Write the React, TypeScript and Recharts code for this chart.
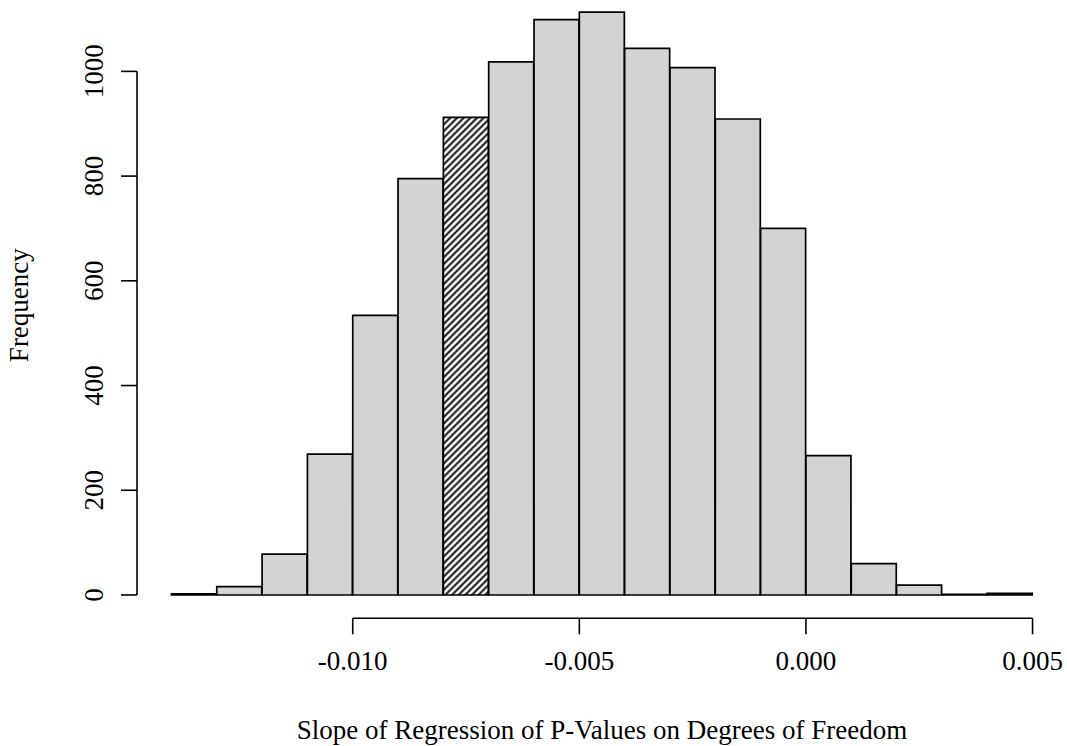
import React from 'react';
import { BarChart, Bar, Cell, XAxis, YAxis, ReferenceLine, Label } from 'recharts';

// histogram bins (midpoints), width 0.001
const binMids = [
  -0.0135, -0.0125, -0.0115, -0.0105, -0.0095, -0.0085, -0.0075, -0.0065, -0.0055, -0.0045,
  -0.0035, -0.0025, -0.0015, -0.0005, 0.0005, 0.0015, 0.0025, 0.0035, 0.0045,
];
const counts = [2, 16, 78, 269, 534, 795, 912, 1018, 1099, 1113, 1044, 1007, 909, 700, 266, 60, 19, 1, 3];
const hatchedBin = -0.0075;

const xTicks = [-0.01, -0.005, 0, 0.005];
const xTickLabels = ['-0.010', '-0.005', '0.000', '0.005'];
const yTicks = [0, 200, 400, 600, 800, 1000];

// R-style usr limits (4% padding)
const xDomain = [-0.01476, 0.00576];
const yDomain = [-44.52, 1136.3];

const data = binMids.map((mid, i) => ({ mid, count: counts[i] }));

const font = '"Liberation Serif", "Times New Roman", serif';
const fontSize = 27;

const XTick = ({ x, y, index }: any) => (
  <text x={x} y={y + 36} textAnchor="middle" fontFamily={font} fontSize={fontSize} fill="#000">
    {xTickLabels[index]}
  </text>
);

const YTick = ({ x, y, payload }: any) => {
  const tx = x - 17.5;
  return (
    <text
      x={tx}
      y={y}
      transform={`rotate(-90 ${tx} ${y})`}
      textAnchor="middle"
      fontFamily={font}
      fontSize={fontSize}
      fill="#000"
    >
      {payload.value}
    </text>
  );
};

export default function App() {
  return (
    <div style={{ position: 'absolute', left: 0, top: 0, width: 1067, height: 746, background: '#fff' }}>
      <BarChart
        width={1067}
        height={746}
        data={data}
        margin={{ top: 0, right: 0, bottom: 0, left: 0 }}
        barCategoryGap={0}
        barGap={0}
      >
        <defs>
          <pattern id="hatch" patternUnits="userSpaceOnUse" width={4.7} height={10} patternTransform="rotate(45)">
            <rect x={0} y={0} width={4.7} height={10} fill="#fff" />
            <line x1={2.35} y1={0} x2={2.35} y2={10} stroke="#000" strokeWidth={1.9} />
          </pattern>
        </defs>
        <XAxis
          dataKey="mid"
          type="number"
          domain={xDomain}
          allowDataOverflow
          ticks={xTicks}
          interval={0}
          height={127.7}
          axisLine={false}
          tickLine={{ stroke: '#000', strokeWidth: 1.6 }}
          tickSize={16}
          tickMargin={0}
          tick={<XTick />}
        >
          <Label
            content={({ viewBox }: any) => (
              <text
                x={viewBox.x + viewBox.width / 2}
                y={viewBox.y + 120.7}
                textAnchor="middle"
                fontFamily={font}
                fontSize={fontSize}
                fill="#000"
              >
                Slope of Regression of P-Values on Degrees of Freedom
              </text>
            )}
          />
        </XAxis>
        <YAxis
          type="number"
          domain={yDomain}
          allowDataOverflow
          ticks={yTicks}
          interval={0}
          width={137}
          axisLine={false}
          tickLine={{ stroke: '#000', strokeWidth: 1.6 }}
          tickSize={16}
          tickMargin={0}
          tick={<YTick />}
        >
          <Label
            content={({ viewBox }: any) => {
              const tx = viewBox.x + 28;
              const ty = viewBox.y + viewBox.height / 2 - 4;
              return (
                <text
                  x={tx}
                  y={ty}
                  transform={`rotate(-90 ${tx} ${ty})`}
                  textAnchor="middle"
                  fontFamily={font}
                  fontSize={fontSize}
                  fill="#000"
                >
                  Frequency
                </text>
              );
            }}
          />
        </YAxis>
        <Bar dataKey="count" fill="#D3D3D3" stroke="#000" strokeWidth={1.7} isAnimationActive={false}>
          {data.map((d) => (
            <Cell key={d.mid} fill={d.mid === hatchedBin ? 'url(#hatch)' : '#D3D3D3'} />
          ))}
        </Bar>
        <ReferenceLine
          segment={[{ x: xTicks[0], y: yDomain[0] }, { x: xTicks[xTicks.length - 1], y: yDomain[0] }]}
          stroke="#000"
          strokeWidth={1.6}
          ifOverflow="visible"
        />
        <ReferenceLine
          segment={[{ x: xDomain[0], y: yTicks[0] }, { x: xDomain[0], y: yTicks[yTicks.length - 1] }]}
          stroke="#000"
          strokeWidth={1.6}
          ifOverflow="visible"
        />
      </BarChart>
    </div>
  );
}
